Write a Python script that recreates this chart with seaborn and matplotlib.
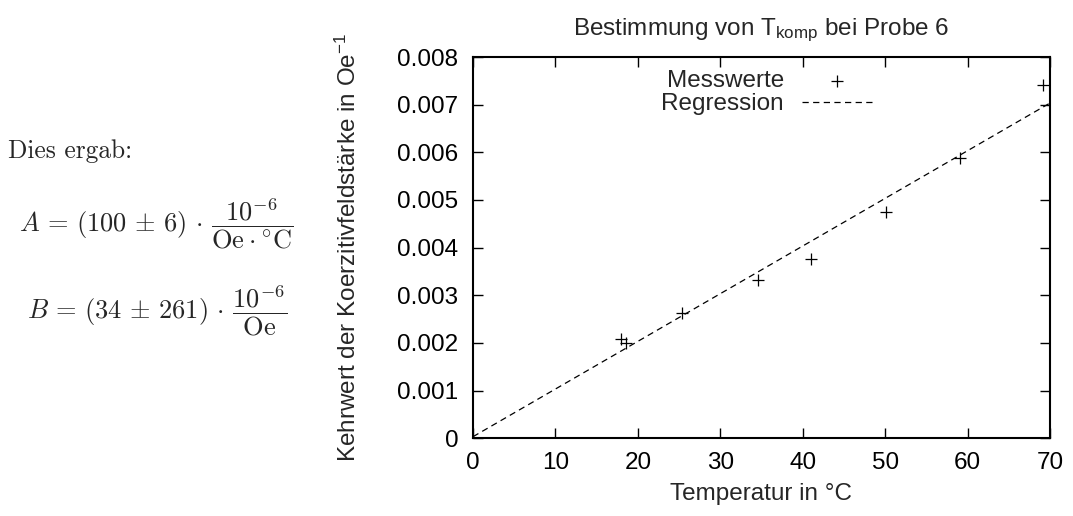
import numpy as np
import pandas as pd
import matplotlib
matplotlib.use("Agg")
import matplotlib.pyplot as plt
import seaborn as sns

temperatur = [17.9, 18.6, 25.4, 34.6, 41.0, 50.1, 59.1, 69.1]
kehrwert = [0.00208, 0.00200, 0.00262, 0.00333, 0.00377, 0.00475, 0.00588, 0.00741]

# Regression parameters shown on the left
A = 100e-6
B = 34e-6
reg_x = [0, 70]

x_ticks = [0, 10, 20, 30, 40, 50, 60, 70]
y_ticks = [0, 0.001, 0.002, 0.003, 0.004, 0.005, 0.006, 0.007, 0.008]
y_ticklabels = ["0", "0.001", "0.002", "0.003", "0.004", "0.005", "0.006", "0.007", "0.008"]

sns.set_theme(style="ticks")
plt.rcParams["font.family"] = ["Liberation Sans", "DejaVu Sans"]
plt.rcParams["mathtext.fontset"] = "custom"
plt.rcParams["mathtext.rm"] = "Liberation Sans"
plt.rcParams["mathtext.it"] = "Liberation Sans:italic"
plt.rcParams["mathtext.bf"] = "Liberation Sans:bold"

FS = 17.5

fig = plt.figure(figsize=(10.73, 5.16), dpi=100)
ax = fig.add_axes([473 / 1073, 1 - 438.3 / 516, 577 / 1073, 381.3 / 516])

df = pd.DataFrame({"T": temperatur, "K": kehrwert})
reg_df = pd.DataFrame({"T": reg_x, "K": [A * v + B for v in reg_x]})

sns.lineplot(data=reg_df, x="T", y="K", ax=ax, color="black", lw=0.9,
             linestyle=(0, (5, 3.5)), label="Regression")
sns.scatterplot(data=df, x="T", y="K", ax=ax, marker="+", s=75, color="black",
                linewidth=0.9, label="Messwerte")

ax.set_xlim(0, 70)
ax.set_ylim(0, 0.008)
ax.set_xticks(x_ticks)
ax.set_xticklabels([str(t) for t in x_ticks])
ax.set_yticks(y_ticks)
ax.set_yticklabels(y_ticklabels)
ax.tick_params(direction="in", length=7.5, width=1.0, labelsize=FS, colors="black",
               top=True, right=True)
ax.tick_params(axis="x", pad=10)
ax.tick_params(axis="y", pad=10.5)
for sp in ax.spines.values():
    sp.set_linewidth(1.5)
    sp.set_color("black")
    sp.set_visible(True)

ax.set_xlabel("Temperatur in °C", fontsize=FS, labelpad=6)
ax.set_ylabel(r"Kehrwert der Koerzitivfeldstärke in Oe$^{-1}$", fontsize=FS, labelpad=26)
ax.set_title(r"Bestimmung von T$_{\mathrm{komp}}$ bei Probe 6", fontsize=FS, pad=16)

handles, labels = ax.get_legend_handles_labels()
order = [labels.index("Messwerte"), labels.index("Regression")]
ax.legend([handles[i] for i in order], [labels[i] for i in order],
          loc="upper right", bbox_to_anchor=((872 - 473) / 577, (438.3 - 70) / 381.3),
          frameon=False, markerfirst=False, fontsize=FS, handlelength=2.9,
          handletextpad=0.73, labelspacing=0.06, borderaxespad=0.0, borderpad=0.0)

# Left-side text
fig.text(8 / 1073, 1 - 158 / 516, "Dies ergab:", fontsize=18.3,
         family="cmr10", ha="left", va="baseline")
fig.text(156 / 1073, 1 - 224 / 516,
         r"$A\,=\,(100\,\pm\,6)\,\cdot\,\dfrac{10^{-6}}{\mathrm{Oe} \cdot {}^{\circ}\mathrm{C}}$",
         fontsize=19, math_fontfamily="cm", ha="center", va="center")
fig.text(157 / 1073, 1 - 311 / 516,
         r"$B\,=\,(34\,\pm\,261)\,\cdot\,\dfrac{10^{-6}}{\mathrm{Oe}}$",
         fontsize=19, math_fontfamily="cm", ha="center", va="center")

fig.savefig("out.png", dpi=100)
